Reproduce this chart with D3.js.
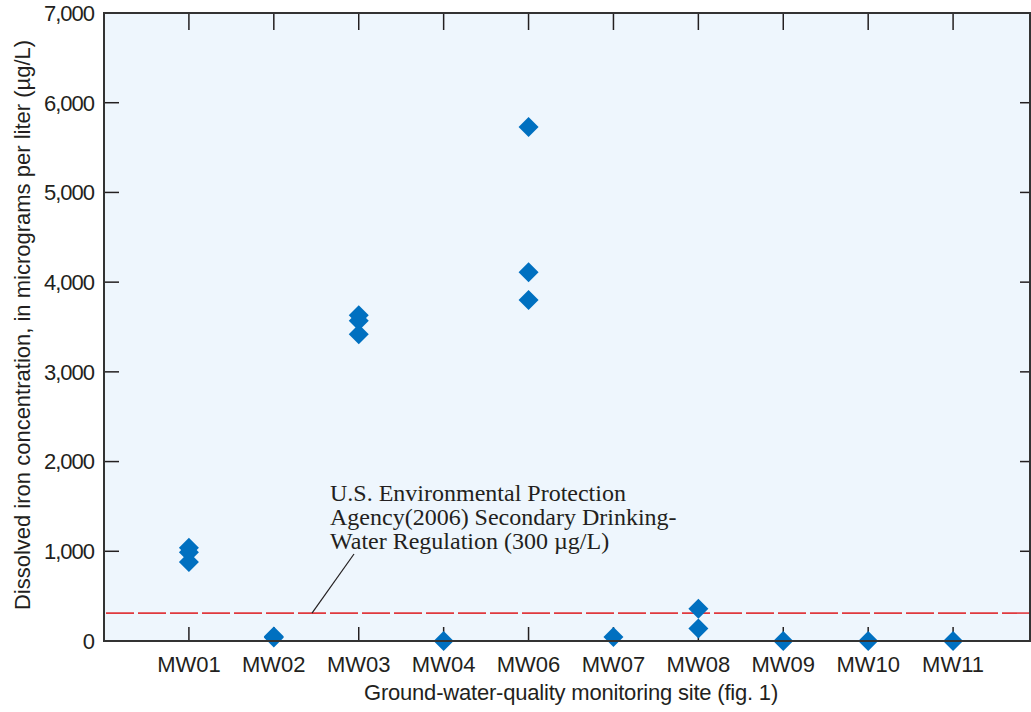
<!DOCTYPE html>
<html>
<head>
<meta charset="utf-8">
<script src="https://cdn.jsdelivr.net/npm/d3@7"></script>
<style>
  body { margin: 0; background: #fff; }
  .tick-label { font-family: "Liberation Sans Narrow", "Arial Narrow", "Liberation Sans", sans-serif; font-size: 22px; fill: #231f20; }
  .note { font-family: "Liberation Serif", "Times New Roman", serif; font-size: 24px; fill: #231f20; }
</style>
</head>
<body>
<div id="chart"></div>
<script>
let sites = ["MW01", "MW02", "MW03", "MW04", "MW06", "MW07", "MW08", "MW09", "MW10", "MW11"];
// one entry per sample: site + dissolved iron (ug/L)
let sampleSites = ["MW01", "MW01", "MW01", "MW02", "MW02", "MW03", "MW03", "MW03", "MW04",
  "MW06", "MW06", "MW06", "MW07", "MW08", "MW08", "MW09", "MW10", "MW11"];
let ironValues = [1040, 990, 880, 50, 40, 3630, 3570, 3420, 0,
  5730, 4110, 3800, 45, 360, 140, 0, 0, 0];
let yTicks = [0, 1000, 2000, 3000, 4000, 5000, 6000, 7000];
let standardValue = 300;
let noteLines = ["U.S. Environmental Protection", "Agency(2006) Secondary Drinking-", "Water Regulation (300 \u00b5g/L)"];

let W = 1031, H = 712;
let margin = { top: 13, right: 1, bottom: 71, left: 104 };

let svg = d3.select("#chart").append("svg")
  .attr("width", W)
  .attr("height", H);

let x = d3.scalePoint()
  .domain(sites)
  .range([margin.left, 1038])
  .padding(1);

let y = d3.scaleLinear()
  .domain([0, 7000])
  .range([H - margin.bottom, margin.top]);

let pL = margin.left, pR = W - margin.right, pT = margin.top, pB = H - margin.bottom;

// plot background
svg.append("rect")
  .attr("x", pL).attr("y", pT)
  .attr("width", pR - pL).attr("height", pB - pT)
  .attr("fill", "#eef6fd");

// reference line
svg.append("line")
  .attr("x1", pL + 2).attr("x2", pR)
  .attr("y1", y(standardValue) - 1).attr("y2", y(standardValue) - 1)
  .attr("stroke", "#e0393e")
  .attr("stroke-width", 1.6)
  .attr("stroke-dasharray", "28,4");

// ticks (inward) - bottom & top for categories
let tickG = svg.append("g").attr("stroke", "#231f20").attr("stroke-width", 1.5);
sites.forEach(s => {
  tickG.append("line").attr("x1", x(s)).attr("x2", x(s)).attr("y1", pB).attr("y2", pB - 14);
  tickG.append("line").attr("x1", x(s)).attr("x2", x(s)).attr("y1", pT).attr("y2", pT + 17);
});
yTicks.forEach(t => {
  tickG.append("line").attr("x1", pL).attr("x2", pL + 15).attr("y1", y(t)).attr("y2", y(t));
  tickG.append("line").attr("x1", pR).attr("x2", pR - 10).attr("y1", y(t)).attr("y2", y(t));
});

// diamonds
let diamond = d3.symbol().type(d3.symbolSquare).size(200);
svg.append("g").selectAll("path")
  .data(ironValues)
  .enter().append("path")
  .attr("d", diamond)
  .attr("fill", "#0070c0")
  .attr("transform", (d, i) => "translate(" + x(sampleSites[i]) + "," + y(d) + ") rotate(45)");

// frame
svg.append("rect")
  .attr("x", pL).attr("y", pT)
  .attr("width", pR - pL).attr("height", pB - pT)
  .attr("fill", "none")
  .attr("stroke", "#333")
  .attr("stroke-width", 2);

// tick labels
let fmt = d3.format(",");
svg.append("g").selectAll("text")
  .data(yTicks)
  .enter().append("text")
  .attr("class", "tick-label")
  .attr("x", pL - 10)
  .attr("y", d => y(d))
  .attr("dy", "0.36em")
  .attr("text-anchor", "end")
  .style("letter-spacing", "-1px")
  .text(d => fmt(d));

svg.append("g").selectAll("text")
  .data(sites)
  .enter().append("text")
  .attr("class", "tick-label")
  .attr("x", d => x(d))
  .attr("y", pB + 31)
  .attr("text-anchor", "middle")
  .text(d => d);

// axis titles
svg.append("text")
  .attr("class", "tick-label")
  .attr("x", 571).attr("y", 700)
  .attr("text-anchor", "middle")
  .style("letter-spacing", "-0.2px")
  .text("Ground-water-quality monitoring site (fig. 1)");

svg.append("text")
  .attr("class", "tick-label")
  .attr("transform", "translate(30," + ((pT + pB) / 2 - 2) + ") rotate(-90)")
  .attr("text-anchor", "middle")
  .text("Dissolved iron concentration, in micrograms per liter (\u00b5g/L)");

// annotation
let note = svg.append("text").attr("class", "note");
noteLines.forEach((l, i) => {
  note.append("tspan").attr("x", 330).attr("y", 501 + i * 24).text(l);
});
svg.append("line")
  .attr("x1", 354).attr("y1", 554)
  .attr("x2", 312).attr("y2", y(standardValue) - 1)
  .attr("stroke", "#231f20").attr("stroke-width", 1.2);
</script>
</body>
</html>
